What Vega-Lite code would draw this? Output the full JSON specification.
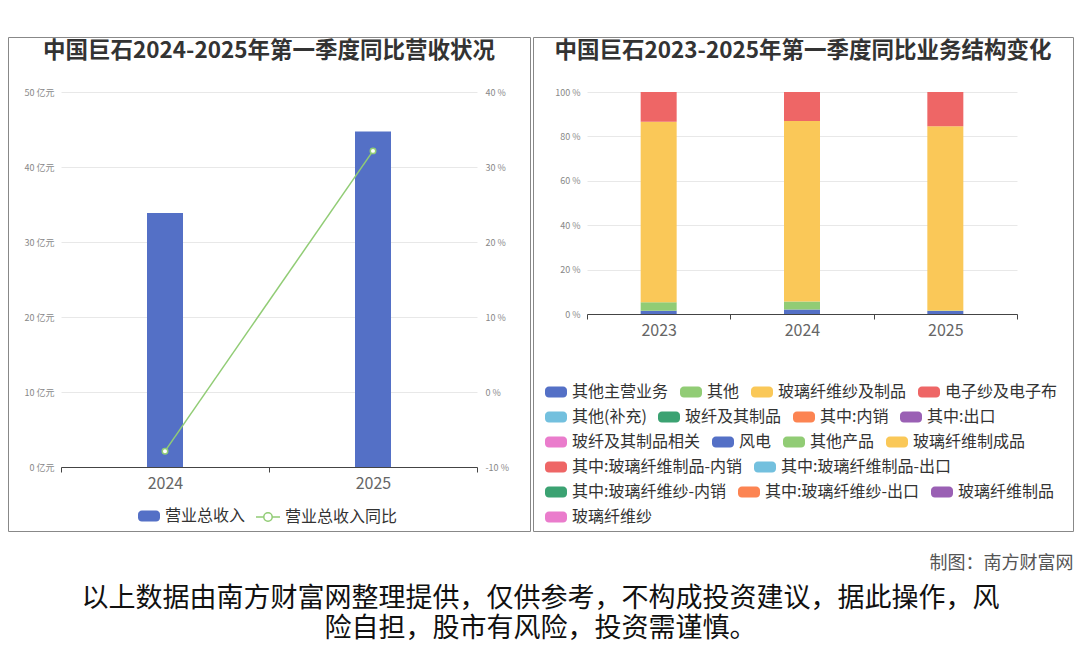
{
  "$schema": "https://vega.github.io/schema/vega-lite/v6.json",
  "background": "white",
  "padding": {"left": 7, "top": 36, "right": 0, "bottom": 0},
  "autosize": {"type": "pad"},
  "config": {
    "font": "Noto Sans CJK SC",
    "view": {"stroke": "#888", "strokeWidth": 1},
    "axis": {"labelFont": "Noto Sans CJK SC", "gridColor": "#e8e8e8", "gridWidth": 1},
    "legend": {"padding": 0, "labelFontSize": 16, "labelColor": "#333", "labelFont": "Noto Sans CJK SC", "symbolOffset": 0, "labelOffset": 4, "columnPadding": 10, "rowPadding": 5, "labelLimit": 400, "title": null, "orient": "none", "direction": "horizontal", "symbolSize": 484, "symbolType": "M-0.65,-0.5H0.65A0.35,0.35 0 0 1 1,-0.15V0.15A0.35,0.35 0 0 1 0.65,0.5H-0.65A0.35,0.35 0 0 1 -1,0.15V-0.15A0.35,0.35 0 0 1 -0.65,-0.5Z"},
    "title": {"font": "Noto Sans CJK SC"}
  },
  "title": {
    "text": ["以上数据由南方财富网整理提供，仅供参考，不构成投资建议，据此操作，风", "险自担，股市有风险，投资需谨慎。"],
    "orient": "bottom", "anchor": "middle", "fontSize": 27, "fontWeight": "normal", "color": "#111", "lineHeight": 30, "offset": 13
  },
  "vconcat": [
    {
      "title": {"text": "制图：南方财富网", "orient": "bottom", "anchor": "end", "fontSize": 18, "fontWeight": "normal", "color": "#555", "offset": 23},
      "spacing": 1,
      "hconcat": [
        {
          "width": 522,
          "height": 494,
          "title": {"text": "中国巨石2024-2025年第一季度同比营收状况", "offset": -25, "fontSize": 22.5, "fontWeight": "bold", "color": "#333", "anchor": "middle"},
          "data": {"values": [
            {"year": "2024", "revenue": 33.86, "yoy": -7.89},
            {"year": "2025", "revenue": 44.75, "yoy": 32.15}
          ]},
          "layer": [
            {
              "mark": {"type": "bar", "size": 36, "color": "#5470c6"},
              "encoding": {
                "x": {"field": "year", "type": "ordinal", "scale": {"range": [53, 469], "paddingInner": 0, "paddingOuter": 0},
                  "axis": {"orient": "bottom", "offset": -64, "title": null, "labelAngle": 0, "tickBand": "extent", "domainColor": "#444", "tickColor": "#444", "tickSize": 5, "labelFontSize": 16, "labelColor": "#666", "labelPadding": 3, "grid": false}},
                "y": {"field": "revenue", "type": "quantitative", "scale": {"domain": [0, 50], "range": [430, 55]},
                  "axis": {"orient": "left", "offset": -53, "values": [0, 10, 20, 30, 40, 50], "labelExpr": "datum.value + ' 亿元'", "title": null, "domain": false, "ticks": false, "labelFontSize": 9, "labelColor": "#888", "labelPadding": 7, "grid": true}},
                "color": {"datum": "营业总收入", "scale": {"range": ["#5470c6"]},
                  "legend": {"legendX": 129, "legendY": 467}}
              }
            },
            {
              "mark": {"type": "line", "color": "#91cc75", "strokeWidth": 1.5, "point": {"filled": false, "fill": "white", "size": 30, "strokeWidth": 1.5, "color": "#91cc75"}},
              "encoding": {
                "x": {"field": "year", "type": "ordinal"},
                "y": {"field": "yoy", "type": "quantitative", "scale": {"domain": [-10, 40], "range": [430, 55]},
                  "axis": {"orient": "right", "offset": -52, "values": [-10, 0, 10, 20, 30, 40], "labelExpr": "datum.value + ' %'", "title": null, "domain": false, "ticks": false, "labelFontSize": 9, "labelColor": "#888", "labelPadding": 7, "grid": false}},
                "color": {"datum": "营业总收入同比", "scale": {"range": ["#91cc75"]},
                  "legend": {"legendX": 247, "legendY": 467, "symbolType": "M-1,0H-0.35M0.35,0H1M0.35,0A0.35,0.35 0 1 1 -0.35,0A0.35,0.35 0 1 1 0.35,0Z", "symbolSize": 576, "symbolStrokeWidth": 1.5}}
              }
            }
          ],
          "resolve": {"scale": {"y": "independent", "color": "independent"}}
        },
        {
          "width": 540,
          "height": 494,
          "title": {"text": "中国巨石2023-2025年第一季度同比业务结构变化", "offset": -25, "fontSize": 22.5, "fontWeight": "bold", "color": "#333", "anchor": "middle"},
          "data": {"values": [
            {"year": "2023", "series": "其他主营业务", "k": 1, "pct": 1.5},
            {"year": "2023", "series": "其他", "k": 2, "pct": 3.8},
            {"year": "2023", "series": "玻璃纤维纱及制品", "k": 3, "pct": 81.3},
            {"year": "2023", "series": "电子纱及电子布", "k": 4, "pct": 13.4},
            {"year": "2024", "series": "其他主营业务", "k": 1, "pct": 2.0},
            {"year": "2024", "series": "其他", "k": 2, "pct": 3.6},
            {"year": "2024", "series": "玻璃纤维纱及制品", "k": 3, "pct": 81.3},
            {"year": "2024", "series": "电子纱及电子布", "k": 4, "pct": 13.1},
            {"year": "2025", "series": "其他主营业务", "k": 1, "pct": 1.4},
            {"year": "2025", "series": "其他", "k": 2, "pct": 0.2},
            {"year": "2025", "series": "玻璃纤维纱及制品", "k": 3, "pct": 83.0},
            {"year": "2025", "series": "电子纱及电子布", "k": 4, "pct": 15.4}
          ]},
          "layer": [
            {
              "mark": {"type": "bar", "size": 36},
              "encoding": {
                "x": {"field": "year", "type": "ordinal", "scale": {"range": [54, 484], "paddingInner": 0, "paddingOuter": 0},
                  "axis": {"orient": "bottom", "offset": -217, "title": null, "labelAngle": 0, "tickBand": "extent", "domainColor": "#444", "tickColor": "#444", "tickSize": 5, "labelFontSize": 16, "labelColor": "#666", "labelPadding": 3, "grid": false}},
                "y": {"field": "pct", "type": "quantitative", "stack": "zero", "scale": {"domain": [0, 100], "range": [277, 55]},
                  "axis": {"orient": "left", "offset": -54, "values": [0, 20, 40, 60, 80, 100], "labelExpr": "datum.value + ' %'", "title": null, "domain": false, "ticks": false, "labelFontSize": 9, "labelColor": "#888", "labelPadding": 7, "grid": true}},
                "order": {"field": "k", "type": "quantitative"},
                "color": {"field": "series", "type": "nominal",
                  "scale": {"domain": ["其他主营业务", "其他", "玻璃纤维纱及制品", "电子纱及电子布"], "range": ["#5470c6", "#91cc75", "#fac858", "#ee6666"]},
                  "legend": {"legendX": 11, "legendY": 343}}
              }
            },
            {
              "transform": [{"filter": "false"}],
              "mark": {"type": "bar", "size": 36},
              "encoding": {
                "x": {"field": "year", "type": "ordinal"},
                "y": {"field": "pct", "type": "quantitative", "stack": null},
                "color": {"field": "series", "type": "nominal",
                  "scale": {"domain": ["其他(补充)", "玻纤及其制品", "其中:内销", "其中:出口"], "range": ["#73c0de", "#3ba272", "#fc8452", "#9a60b4"]},
                  "legend": {"legendX": 11, "legendY": 368}}
              }
            },
            {
              "transform": [{"filter": "false"}],
              "mark": {"type": "bar", "size": 36},
              "encoding": {
                "x": {"field": "year", "type": "ordinal"},
                "y": {"field": "pct", "type": "quantitative", "stack": null},
                "color": {"field": "series", "type": "nominal",
                  "scale": {"domain": ["玻纤及其制品相关", "风电", "其他产品", "玻璃纤维制成品"], "range": ["#ea7ccc", "#5470c6", "#91cc75", "#fac858"]},
                  "legend": {"legendX": 11, "legendY": 393}}
              }
            },
            {
              "transform": [{"filter": "false"}],
              "mark": {"type": "bar", "size": 36},
              "encoding": {
                "x": {"field": "year", "type": "ordinal"},
                "y": {"field": "pct", "type": "quantitative", "stack": null},
                "color": {"field": "series", "type": "nominal",
                  "scale": {"domain": ["其中:玻璃纤维制品-内销", "其中:玻璃纤维制品-出口"], "range": ["#ee6666", "#73c0de"]},
                  "legend": {"legendX": 11, "legendY": 418}}
              }
            },
            {
              "transform": [{"filter": "false"}],
              "mark": {"type": "bar", "size": 36},
              "encoding": {
                "x": {"field": "year", "type": "ordinal"},
                "y": {"field": "pct", "type": "quantitative", "stack": null},
                "color": {"field": "series", "type": "nominal",
                  "scale": {"domain": ["其中:玻璃纤维纱-内销", "其中:玻璃纤维纱-出口", "玻璃纤维制品"], "range": ["#3ba272", "#fc8452", "#9a60b4"]},
                  "legend": {"legendX": 11, "legendY": 443}}
              }
            },
            {
              "transform": [{"filter": "false"}],
              "mark": {"type": "bar", "size": 36},
              "encoding": {
                "x": {"field": "year", "type": "ordinal"},
                "y": {"field": "pct", "type": "quantitative", "stack": null},
                "color": {"field": "series", "type": "nominal",
                  "scale": {"domain": ["玻璃纤维纱"], "range": ["#ea7ccc"]},
                  "legend": {"legendX": 11, "legendY": 468}}
              }
            }
          ],
          "resolve": {"scale": {"color": "independent"}}
        }
      ]
    }
  ]
}
